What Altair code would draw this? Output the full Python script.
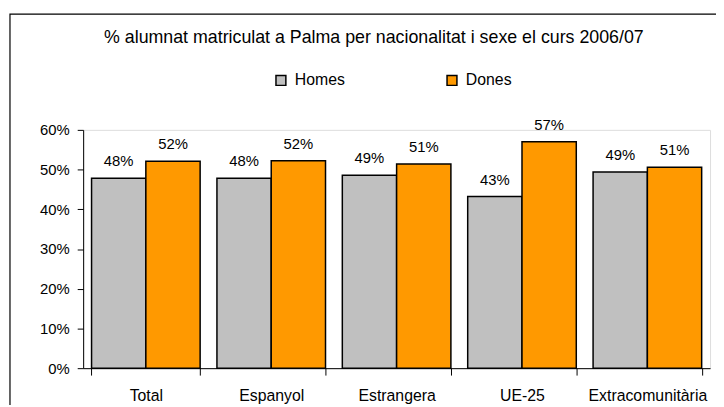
import altair as alt
import pandas as pd

categories = ["Total", "Espanyol", "Estrangera", "UE-25", "Extracomunitària"]
homes = [0.478, 0.478, 0.486, 0.432, 0.494]
dones = [0.521, 0.522, 0.514, 0.570, 0.506]
series = ["Homes", "Dones"]
colors = ["#C0C0C0", "#FF9900"]
y_ticks = [0, 0.1, 0.2, 0.3, 0.4, 0.5, 0.6]
title_text = "% alumnat matriculat a Palma per nacionalitat i sexe el curs 2006/07"

rows = []
for c, h, d in zip(categories, homes, dones):
    rows.append({"cat": c, "sexe": "Homes", "val": h})
    rows.append({"cat": c, "sexe": "Dones", "val": d})
df = pd.DataFrame(rows)

FONT = "Liberation Sans"

x_enc = alt.X(
    "cat:N",
    sort=categories,
    scale=alt.Scale(paddingInner=0.134, paddingOuter=0.067),
    axis=alt.Axis(
        title=None,
        labelAngle=0,
        tickBand="extent",
        tickSize=7,
        tickColor="black",
        tickWidth=1,
        domainColor="black",
        domainWidth=1,
        labelColor="black",
        labelFontSize=16,
        labelFont=FONT,
        labelPadding=13,
        grid=False,
    ),
)
xoff = alt.XOffset("sexe:N", sort=series, scale=alt.Scale(paddingInner=0, paddingOuter=0))
y_enc = alt.Y(
    "val:Q",
    scale=alt.Scale(domain=[0, 0.6], nice=False),
    axis=alt.Axis(
        title=None,
        values=y_ticks,
        format=".0%",
        tickSize=6,
        tickColor="black",
        domainColor="black",
        labelColor="black",
        labelFontSize=15,
        labelFont=FONT,
        labelPadding=8,
        grid=False,
    ),
)

bars = alt.Chart(df).mark_bar(stroke="black", strokeWidth=1.5).encode(
    x=x_enc,
    xOffset=xoff,
    y=y_enc,
    color=alt.Color(
        "sexe:N",
        sort=series,
        scale=alt.Scale(domain=series, range=colors),
        legend=alt.Legend(
            title=None,
            orient="none",
            legendX=192,
            legendY=-58,
            direction="horizontal",
            symbolType="square",
            symbolSize=100,
            symbolStrokeColor="black",
            symbolStrokeWidth=1.5,
            symbolOpacity=1,
            labelFontSize=16,
            labelFont=FONT,
            labelColor="black",
            labelOffset=6,
            columnPadding=100,
            padding=0,
        ),
    ),
)

labels = alt.Chart(df).mark_text(
    baseline="alphabetic", dy=-12, fontSize=15, font=FONT, color="black"
).encode(
    x=alt.X("cat:N", sort=categories),
    xOffset=alt.XOffset("sexe:N", sort=series),
    y="val:Q",
    text=alt.Text("val:Q", format=".0%"),
)

frame = alt.Chart(alt.Data(values=[{}])).mark_rect(
    fill="transparent", stroke="black", strokeWidth=1.2
).encode(
    x=alt.value(-74), x2=alt.value(700), y=alt.value(-117), y2=alt.value(400)
)

chart = alt.layer(frame, bars, labels).properties(
    width=634,
    height=241,
    autosize=alt.AutoSizeParams(type="none"),
    padding={"left": 76, "top": 121, "right": 6, "bottom": 35},
    title=alt.TitleParams(
        title_text,
        anchor="middle",
        dx=-23,
        fontSize=18,
        font=FONT,
        fontWeight="normal",
        color="black",
        offset=-34,
    ),
).configure_view(strokeWidth=0).configure(background="white")

chart.save("out.html", embed_options={"renderer": "svg", "actions": False})
